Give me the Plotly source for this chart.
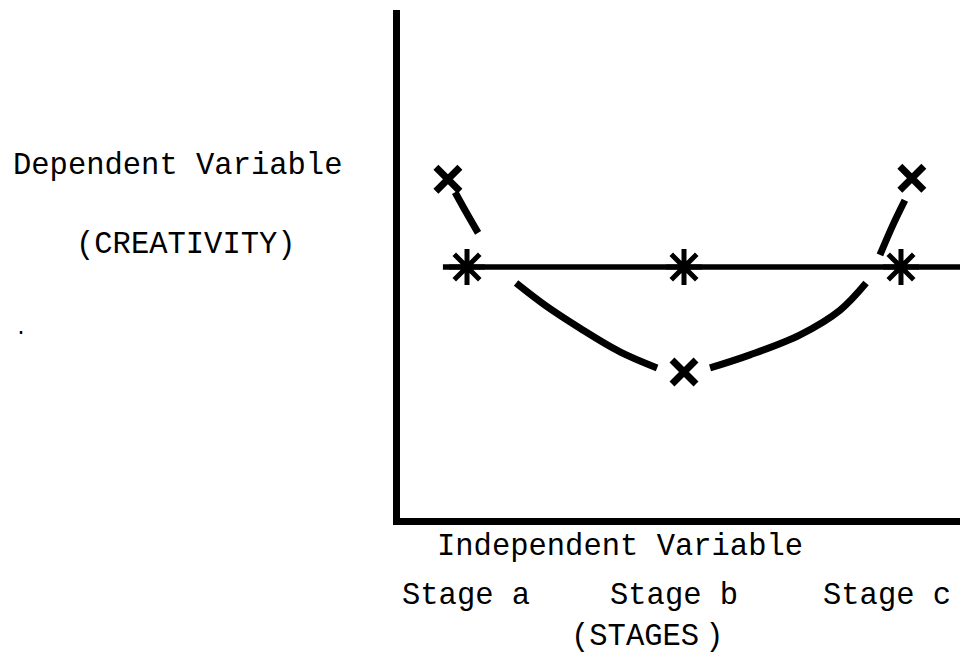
import plotly.graph_objects as go

# ---- data ----
stages = [1, 2, 3]
stage_labels = ["Stage a", "Stage b", "Stage c"]

# constant (no-change) hypothesis, marked with asterisks
baseline_values = [5.0, 5.0, 5.0]
baseline_extent_x = [0.889, 3.31]

# U-shaped hypothesis, marked with X's
u_marker_x = [0.912, 2.00, 3.05]
u_marker_y = [6.75, 2.91, 6.77]

# hand-drawn curve segments (gaps between pen strokes)
left_stroke_x = [0.945, 0.995, 1.051]
left_stroke_y = [6.49, 6.10, 5.68]
u_left_x = [1.226, 1.359, 1.521, 1.705, 1.876]
u_left_y = [4.68, 4.24, 3.78, 3.31, 2.99]
u_right_x = [2.120, 2.304, 2.535, 2.719, 2.839]
u_right_y = [2.99, 3.25, 3.65, 4.14, 4.68]
right_stroke_x = [2.903, 2.963, 3.018]
right_stroke_y = [5.24, 5.84, 6.33]

x_range = [0.6912, 3.3088]
y_range = [0, 10.12]

FONT = "Liberation Mono, Courier New, monospace"
INK = "black"
FS = 30.5

# page has an 8px body margin: figure is placed at (8, 8)
OFF = 8
W, H = 968 - OFF, 656 - OFF
L, T = 400 - OFF, 10 - OFF
B = H - (518 - OFF)
pw, ph = W - L, H - B - T

def px_to_paper(px, py):
    return (px - OFF - L) / pw, (H - B - (py - OFF)) / ph

fig = go.Figure()

# baseline line
fig.add_trace(go.Scatter(
    x=[baseline_extent_x[0]] + stages + [baseline_extent_x[1]],
    y=[baseline_values[0]] + baseline_values + [baseline_values[-1]],
    mode="lines", line=dict(color=INK, width=5.5), hoverinfo="skip"))

# curve strokes
for sx, sy in [(left_stroke_x, left_stroke_y), (u_left_x, u_left_y),
               (u_right_x, u_right_y), (right_stroke_x, right_stroke_y)]:
    fig.add_trace(go.Scatter(x=sx, y=sy, mode="lines", line_shape="spline",
                             line=dict(color=INK, width=7), hoverinfo="skip"))

# asterisk markers
fig.add_trace(go.Scatter(
    x=stages, y=baseline_values, mode="markers",
    marker=dict(symbol="asterisk-open", size=30, color=INK,
                line=dict(color=INK, width=5))))

# X markers
fig.add_trace(go.Scatter(
    x=u_marker_x, y=u_marker_y, mode="markers",
    marker=dict(symbol="x-thin-open", size=24, color=INK,
                line=dict(color=INK, width=7))))

def ann(text, px, py, size=FS):
    ax, ay = px_to_paper(px, py)
    return dict(x=ax, y=ay, xref="paper", yref="paper", text=text,
                xanchor="center", yanchor="middle", showarrow=False,
                font=dict(family=FONT, size=size, color=INK))

stage_label_px = [466, 674, 887]
annotations = [ann(lab, px, 596) for lab, px in zip(stage_labels, stage_label_px)]
annotations += [
    ann("Independent Variable", 620, 547),
    ann("(STAGES\u2009)", 647, 637),
    ann("Dependent Variable", 177, 166),
    ann("(CREATIVITY)", 186, 245),
    ann(".", 21, 328, 20),
]

fig.update_layout(
    width=W, height=H, margin=dict(l=L, r=0, t=T, b=B),
    plot_bgcolor="white", paper_bgcolor="white", showlegend=False,
    annotations=annotations,
    xaxis=dict(range=x_range, showgrid=False, zeroline=False, showticklabels=False,
               ticks="", showline=True, linecolor=INK, linewidth=7, mirror=False),
    yaxis=dict(range=y_range, showgrid=False, zeroline=False, showticklabels=False,
               ticks="", showline=True, linecolor=INK, linewidth=7, mirror=False),
)
fig.update_traces(cliponaxis=False)

fig.write_html("out.html")
